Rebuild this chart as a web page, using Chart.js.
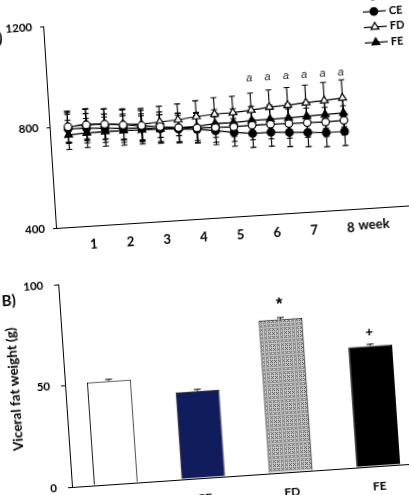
<!DOCTYPE html>
<html>
<head>
<meta charset="utf-8">
<title>Body weight and visceral fat weight</title>
<script src="https://cdn.jsdelivr.net/npm/chart.js@4.4.1/dist/chart.umd.min.js"></script>
<style>
  html, body { margin: 0; padding: 0; background: #fff; }
  body { width: 409px; height: 495px; position: relative; overflow: hidden; }
  .panel { position: absolute; }
  /* the scanned figure is slightly tilted, so each panel is turned round its axis origin */
  #panelA { left: 5.5px; top: -4.5px; transform-origin: 50px 232px; transform: rotate(-3.65deg); }
  #panelB { left: 1.7px; top: 254.3px; transform-origin: 70px 233px; transform: rotate(-3.9deg); }
</style>
</head>
<body>
<div class="panel" id="panelA"><canvas id="weightChart" width="420" height="260"></canvas></div>
<div class="panel" id="panelB"><canvas id="fatChart" width="430" height="262"></canvas></div>
<script>
// panel A: body weight over 8 weeks
const weeks = [0.5, 1, 1.5, 2, 2.5, 3, 3.5, 4, 4.5, 5, 5.5, 6, 6.5, 7, 7.5, 8]
const cdWeight = [797, 800, 798, 790, 783, 774, 766, 760, 757, 755, 757, 756, 754, 753, 751, 753]
const ceWeight = [789, 787, 782, 777, 774, 766, 760, 755, 744, 733, 724, 724, 719, 714, 709, 709]
const fdWeight = [795, 804, 799, 794, 789, 793, 797, 805, 810, 811, 816, 824, 827, 832, 836, 842]
const feWeight = [765, 768, 769, 768, 766, 765, 766, 766, 773, 772, 776, 776, 777, 779, 781, 783]
const cdErr = [62, 62, 60, 60, 60, 58, 58, 58, 58, 58, 58, 58, 58, 58, 58, 58]
const ceErr = [58, 58, 56, 56, 56, 56, 55, 55, 55, 55, 55, 55, 56, 56, 56, 56]
const fdErr = [60, 60, 60, 60, 62, 62, 63, 63, 65, 65, 68, 68, 70, 70, 72, 72]
const feErr = [58, 58, 58, 58, 56, 56, 56, 56, 55, 55, 55, 55, 55, 55, 55, 55]
const sigWeeks = [5.5, 6, 6.5, 7, 7.5, 8]
const weekTicks = [1, 2, 3, 4, 5, 6, 7, 8]
const weightTicks = [400, 800, 1200]

// panel B: visceral fat weight
const groups = ['CD', 'CE', 'FD', 'FE']
const fatWeight = [50.9, 43.0, 75.5, 59.4]
const fatErr = [0.8, 0.8, 0.8, 0.8]
const fatMarks = ['', '', '*', '+']
const fatTicks = [0, 50, 100]

Chart.defaults.font.family = 'Lato'
Chart.defaults.color = '#000'

function pts(values) {
  return values.map((v, i) => ({ x: weeks[i], y: v }))
}

const errorBars = {
  id: 'errorBars',
  draw(chart, opts) {
    const ctx = chart.ctx
    const yScale = chart.scales.y
    ctx.save()
    ctx.strokeStyle = '#000'
    ctx.lineWidth = opts.width
    chart.data.datasets.forEach((ds, i) => {
      chart.getDatasetMeta(i).data.forEach((el, j) => {
        const v = typeof ds.data[j] === 'object' ? ds.data[j].y : ds.data[j]
        const e = ds.errors[j]
        const top = yScale.getPixelForValue(v + e)
        const bot = opts.upOnly ? el.y : yScale.getPixelForValue(v - e)
        ctx.beginPath()
        ctx.moveTo(el.x, top); ctx.lineTo(el.x, bot)
        ctx.moveTo(el.x - opts.cap, top); ctx.lineTo(el.x + opts.cap, top)
        if (!opts.upOnly) { ctx.moveTo(el.x - opts.cap, bot); ctx.lineTo(el.x + opts.cap, bot) }
        ctx.stroke()
      })
    })
    ctx.restore()
  },
  beforeDatasetsDraw(chart, args, opts) { if (!opts.upOnly) this.draw(chart, opts) },
  afterDatasetsDraw(chart, args, opts) { if (opts.upOnly) this.draw(chart, opts) }
}

const lineLegend = {
  id: 'lineLegend',
  afterDraw(chart, args, opts) {
    const ctx = chart.ctx
    ctx.save()
    ctx.font = 'bold 11px Lato'
    ctx.textBaseline = 'middle'
    chart.data.datasets.forEach((ds, i) => {
      const x = opts.x
      const y = opts.y + i * opts.gap
      ctx.strokeStyle = '#000'
      ctx.lineWidth = 1.2
      ctx.beginPath(); ctx.moveTo(x - 11, y); ctx.lineTo(x + 12, y); ctx.stroke()
      ctx.fillStyle = ds.pointBackgroundColor
      Chart.helpers.drawPoint(ctx, { pointStyle: ds.pointStyle, radius: ds.pointRadius, rotation: 0, borderWidth: 1.2 }, x, y)
      ctx.fillStyle = '#000'
      ctx.fillText(ds.label, x + 15, y)
    })
    ctx.restore()
  }
}

const weightNotes = {
  id: 'weightNotes',
  afterDraw(chart, args, opts) {
    const ctx = chart.ctx
    const xs = chart.scales.x, ys = chart.scales.y
    ctx.save()
    ctx.fillStyle = '#222'
    ctx.font = 'italic 11px "Liberation Sans"'
    ctx.textAlign = 'center'
    ctx.textBaseline = 'middle'
    const ya = ys.getPixelForValue(opts.sigLevel)
    sigWeeks.forEach(w => ctx.fillText('a', xs.getPixelForValue(w), ya))
    // unit after the last week tick
    ctx.fillStyle = '#000'
    ctx.font = 'bold 13px Lato'
    ctx.textAlign = 'left'
    const x8 = xs.getPixelForValue(8) + ctx.measureText('8').width / 2 + 4
    ctx.fillText('week', x8, chart.chartArea.bottom + 17)
    ctx.font = 'bold 15px Lato'
    ctx.textAlign = 'right'
    ctx.fillText('(A)', 8.7, 39)
    ctx.restore()
  }
}

new Chart(document.getElementById('weightChart'), {
  type: 'line',
  data: {
    datasets: [
      { label: 'CD', data: pts(cdWeight), errors: cdErr, borderColor: '#000', borderWidth: 1.2,
        pointStyle: 'circle', pointRadius: 3.8, pointBackgroundColor: '#fff', pointBorderColor: '#000', pointBorderWidth: 1.2 },
      { label: 'CE', data: pts(ceWeight), errors: ceErr, borderColor: '#000', borderWidth: 1.2,
        pointStyle: 'circle', pointRadius: 3.8, pointBackgroundColor: '#000', pointBorderColor: '#000', pointBorderWidth: 1.2 },
      { label: 'FD', data: pts(fdWeight), errors: fdErr, borderColor: '#000', borderWidth: 1.2,
        pointStyle: 'triangle', pointRadius: 4.5, pointBackgroundColor: '#fff', pointBorderColor: '#000', pointBorderWidth: 1.2 },
      { label: 'FE', data: pts(feWeight), errors: feErr, borderColor: '#000', borderWidth: 1.2,
        pointStyle: 'triangle', pointRadius: 4.5, pointBackgroundColor: '#000', pointBorderColor: '#000', pointBorderWidth: 1.2 }
    ]
  },
  options: {
    responsive: false,
    animation: false,
    layout: { padding: { top: 30, right: 17, left: 0, bottom: 0 } },
    plugins: {
      legend: { display: false },
      tooltip: { enabled: false },
      errorBars: { cap: 3, width: 1.1, upOnly: false },
      lineLegend: { x: 381, y: 20.6, gap: 15.5 },
      weightNotes: { sigLevel: 943 }
    },
    scales: {
      x: {
        type: 'linear', min: 0, max: 9.6,
        afterBuildTicks: s => { s.ticks = weekTicks.map(v => ({ value: v })) },
        afterFit: s => { s.height = 28 },
        grid: { display: false },
        border: { color: '#000', width: 1 },
        ticks: { font: { size: 13, weight: 'bold' }, padding: 3, maxRotation: 0 }
      },
      y: {
        min: 400, max: 1200,
        afterBuildTicks: s => { s.ticks = weightTicks.map(v => ({ value: v })) },
        afterFit: s => { s.width = 50 },
        grid: { drawOnChartArea: false, drawTicks: true, tickLength: 3, color: '#000' },
        border: { color: '#000', width: 1 },
        ticks: { font: { size: 11.5, weight: 'bold' }, padding: 8, callback: v => String(v) }
      }
    }
  },
  plugins: [errorBars, lineLegend, weightNotes]
})

// dotted grey fill for the FD bar
function dotPattern() {
  const c = document.createElement('canvas')
  c.width = 4; c.height = 4
  const g = c.getContext('2d')
  g.fillStyle = '#cbcbcb'
  g.fillRect(0, 0, 4, 4)
  g.fillStyle = '#555555'
  g.fillRect(0, 0, 1, 1); g.fillRect(2, 0, 1, 1); g.fillRect(0, 2, 1, 1); g.fillRect(2, 2, 1, 1)
  g.fillRect(1, 1, 1, 1)
  return document.getElementById('fatChart').getContext('2d').createPattern(c, 'repeat')
}

const fatNotes = {
  id: 'fatNotes',
  afterDraw(chart) {
    const ctx = chart.ctx
    const ys = chart.scales.y
    const meta = chart.getDatasetMeta(0)
    ctx.save()
    ctx.fillStyle = '#000'
    ctx.textAlign = 'center'
    ctx.textBaseline = 'middle'
    fatMarks.forEach((m, i) => {
      if (!m) return
      const top = ys.getPixelForValue(fatWeight[i] + fatErr[i])
      if (m === '*') {
        ctx.font = 'bold 17px "Liberation Sans"'
        ctx.fillText(m, meta.data[i].x, top - 13)
      } else {
        ctx.font = 'bold 13px "Liberation Sans"'
        ctx.fillText(m, meta.data[i].x, top - 11)
      }
    })
    ctx.font = 'bold 15px Lato'
    ctx.fillText('B)', 19.6, 42.8)
    ctx.restore()
  }
}

new Chart(document.getElementById('fatChart'), {
  type: 'bar',
  data: {
    labels: groups,
    datasets: [{
      data: fatWeight,
      errors: fatErr,
      backgroundColor: ['#ffffff', '#111c5c', dotPattern(), '#000000'],
      borderColor: '#000',
      borderWidth: 1,
      categoryPercentage: 1,
      barPercentage: 0.5
    }]
  },
  options: {
    responsive: false,
    animation: false,
    layout: { padding: { top: 30, right: 9, left: 0, bottom: 0 } },
    plugins: {
      legend: { display: false },
      tooltip: { enabled: false },
      errorBars: { cap: 3.5, width: 1, upOnly: true }
    },
    scales: {
      x: {
        afterFit: s => { s.height = 29 },
        grid: { display: false },
        border: { color: '#000', width: 1 },
        ticks: { font: { size: 12, weight: 'bold' }, padding: 5 }
      },
      y: {
        min: 0, max: 100,
        afterBuildTicks: s => { s.ticks = fatTicks.map(v => ({ value: v })) },
        afterFit: s => { s.width = 70 },
        grid: { drawOnChartArea: false, drawTicks: true, tickLength: 4, color: '#000' },
        border: { color: '#000', width: 1 },
        ticks: { font: { size: 11.5, weight: 'bold' }, padding: 11 },
        title: { display: true, text: 'Viceral fat weight (g)', font: { size: 13.5, weight: 'bold' }, padding: { top: 11.5 } }
      }
    }
  },
  plugins: [errorBars, fatNotes]
})
</script>
</body>
</html>
